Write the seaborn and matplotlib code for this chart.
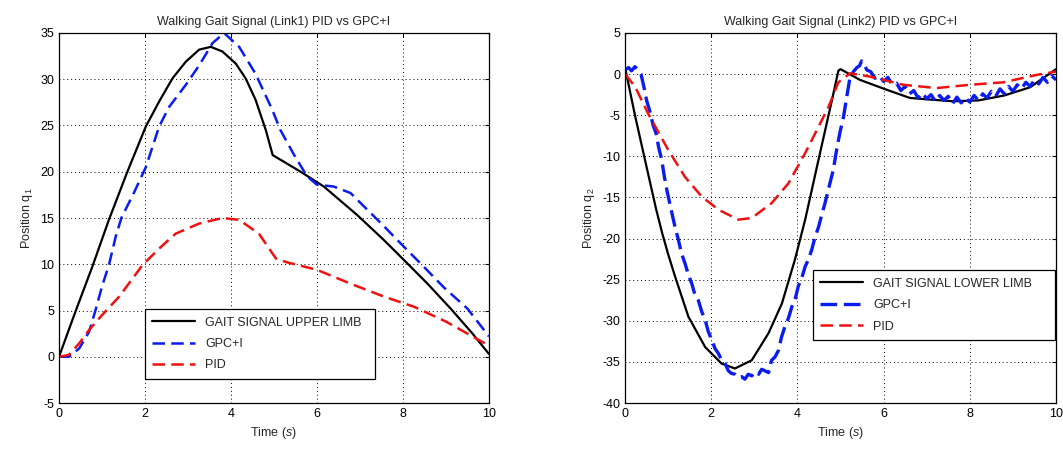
import matplotlib
matplotlib.use("Agg")
import matplotlib.pyplot as plt
import seaborn as sns

# ---- Link1 (upper limb) ----
t_gait1 = [0, 0.4, 0.78, 1.16, 1.59, 2.02, 2.33, 2.64, 2.95, 3.26, 3.53, 3.80, 4.11, 4.34, 4.57,
           4.81, 4.97, 5.62, 6.16, 6.94, 7.56, 8.1, 8.57, 9.11, 9.6, 10.0]
q_gait1 = [0, 5.1, 9.8, 14.8, 20.0, 24.9, 27.6, 30.1, 31.9, 33.2, 33.5, 33.0, 31.7, 30.1, 27.8,
           24.5, 21.8, 20.0, 18.4, 15.3, 12.6, 10.1, 7.9, 5.2, 2.6, 0.3]

t_gpc1 = [0, 0.23, 0.47, 0.7, 0.85, 1.0, 1.16, 1.32, 1.45, 1.75, 2.02, 2.33, 2.56, 2.95, 3.26, 3.57,
          3.84, 4.19, 4.57, 4.96, 5.15, 5.47, 5.77, 6.0, 6.39, 6.78, 7.17, 7.56, 8.02, 8.49, 8.95,
          9.5, 10.0]
q_gpc1 = [0, 0, 0.9, 2.7, 5.05, 7.6, 9.9, 13.0, 15.0, 17.8, 20.5, 24.9, 27.0, 29.4, 31.5, 33.9,
          35.0, 33.5, 30.6, 26.7, 24.5, 21.8, 19.5, 18.6, 18.4, 17.7, 15.9, 14.1, 11.9, 9.7, 7.5,
          5.2, 2.2]

t_pid1 = [0, 0.23, 0.47, 0.7, 1.0, 1.4, 1.94, 2.33, 2.71, 3.26, 3.8, 4.19, 4.65, 4.96, 5.05, 5.31,
          6.0, 6.78, 7.56, 8.26, 9.0, 10.0]
q_pid1 = [0, 0.2, 1.45, 2.9, 4.5, 6.5, 9.9, 11.7, 13.3, 14.4, 15.0, 14.8, 13.3, 11.2, 10.6, 10.2,
          9.4, 7.9, 6.5, 5.4, 3.8, 1.2]

# ---- Link2 (lower limb) ----
t_gait2 = [0, 0.23, 0.5, 0.72, 0.86, 1.0, 1.16, 1.47, 1.86, 2.24, 2.55, 2.94, 3.33, 3.64, 3.94, 4.18,
           4.49, 4.8, 4.95, 5.0, 5.45, 6.07, 6.61, 7.08, 7.62, 8.2, 8.8, 9.4, 10.0]
q_gait2 = [0.8, -5.0, -11.3, -16.4, -19.3, -21.9, -24.6, -29.5, -33.2, -35.2, -35.8, -34.8, -31.5,
           -27.9, -22.6, -17.7, -10.4, -3.2, 0.4, 0.6, -0.7, -1.9, -2.9, -3.1, -3.3, -3.2, -2.6,
           -1.6, 0.6]

t_gpc2 = [0, 0.08, 0.15, 0.23, 0.3, 0.37, 0.44, 0.5, 0.58, 0.65, 0.72, 0.78, 0.85, 0.91, 0.97,
          1.05, 1.1, 1.16, 1.24, 1.31, 1.39, 1.47, 1.55, 1.62, 1.70, 1.78, 1.86, 1.93, 2.01, 2.09,
          2.17, 2.25, 2.32, 2.40, 2.47, 2.55, 2.63, 2.71, 2.78, 2.86, 2.94, 3.02, 3.10, 3.17, 3.25,
          3.33, 3.40, 3.48, 3.56, 3.63, 3.71, 3.79, 3.87, 3.95, 4.02, 4.10, 4.18, 4.25, 4.33, 4.41,
          4.49, 4.57, 4.64, 4.72, 4.83, 4.91, 4.99, 5.07, 5.15, 5.22, 5.30, 5.38, 5.44, 5.49, 5.55,
          5.61, 5.7, 5.8, 5.9, 6.0, 6.1, 6.2, 6.3, 6.4, 6.5, 6.6, 6.7, 6.8, 6.9, 7.0, 7.1, 7.2, 7.3,
          7.4, 7.5, 7.6, 7.7, 7.8, 7.9, 8.0, 8.1, 8.2, 8.3, 8.4, 8.5, 8.6, 8.7, 8.8, 8.9, 9.0, 9.1,
          9.2, 9.3, 9.4, 9.5, 9.6, 9.7, 9.8, 9.9, 10.0]
q_gpc2 = [0.5, 0.8, 0.4, 0.9, 0.5, 0.0, -1.6, -3.2, -4.6, -6.2, -7.2, -8.9, -10.4, -12.4, -14.1,
          -16.0, -17.2, -18.6, -20.2, -21.8, -23.0, -24.4, -25.5, -26.8, -27.5, -28.9, -29.9, -31.3,
          -32.3, -33.4, -34.0, -34.9, -35.2, -36.1, -36.4, -36.5, -36.9, -36.8, -37.1, -36.5, -36.7,
          -36.2, -36.5, -35.9, -36.1, -36.3, -34.8, -34.4, -33.6, -32.0, -30.7, -29.7, -28.3, -27.3,
          -25.8, -24.8, -23.4, -22.6, -21.4, -19.8, -18.6, -17.0, -15.7, -14.0, -11.7, -9.2, -7.0,
          -5.2, -2.6, -0.4, 0.3, 0.8, 1.0, 1.6, 1.2, 0.5, 0.3, -0.5, -0.2, -0.9, -0.4, -1.3, -1.1,
          -2.0, -1.5, -2.4, -2.0, -2.9, -2.3, -3.0, -2.5, -3.3, -2.6, -3.2, -2.7, -3.6, -2.8, -3.5,
          -2.9, -3.4, -2.6, -3.2, -2.4, -2.9, -2.1, -2.7, -1.8, -2.4, -1.5, -2.1, -1.3, -1.8, -1.0,
          -1.5, -0.7, -1.2, -0.4, -1.0, -0.2, -0.7]

t_pid2 = [0, 0.23, 0.54, 1.0, 1.39, 1.78, 2.17, 2.63, 2.94, 3.4, 3.79, 4.18, 4.49, 4.72, 4.95,
          5.22, 5.68, 6.46, 7.23, 8.0, 8.78, 9.55, 10.0]
q_pid2 = [0, -1.5, -4.85, -9.2, -12.5, -14.9, -16.5, -17.7, -17.5, -15.7, -13.3, -9.6, -6.4, -4.0,
          -1.0, 0.1, -0.3, -1.3, -1.7, -1.3, -1.0, -0.1, 0.3]

sns.set_style("white")
plt.rcParams['font.family'] = ['Liberation Sans', 'DejaVu Sans']
plt.rcParams['axes.unicode_minus'] = False
plt.rcParams['mathtext.fontset'] = 'custom'
plt.rcParams['mathtext.rm'] = 'Liberation Sans'
plt.rcParams['mathtext.it'] = 'Liberation Sans:italic'

fig = plt.figure(figsize=(10.63, 4.5), dpi=100)
ax1 = fig.add_axes([0.0555, 0.1044, 0.4045, 0.8223])
ax2 = fig.add_axes([0.588, 0.1044, 0.4054, 0.8223])

dash = (0, (5, 2.5))
sns.lineplot(x=t_gait1, y=q_gait1, ax=ax1, color="black", lw=1.6, label="GAIT SIGNAL UPPER LIMB")
sns.lineplot(x=t_gpc1, y=q_gpc1, ax=ax1, color="#0a1cf0", lw=1.8, linestyle=dash, label="GPC+I")
sns.lineplot(x=t_pid1, y=q_pid1, ax=ax1, color="#f01010", lw=1.8, linestyle=dash, label="PID")

sns.lineplot(x=t_gait2, y=q_gait2, ax=ax2, color="black", lw=1.6, label="GAIT SIGNAL LOWER LIMB")
sns.lineplot(x=t_gpc2, y=q_gpc2, ax=ax2, color="#0a1cf0", lw=2.4, linestyle=(0, (5, 2.0)), label="GPC+I")
sns.lineplot(x=t_pid2, y=q_pid2, ax=ax2, color="#f01010", lw=1.8, linestyle=dash, label="PID")

panels = [
    (ax1, "Walking Gait Signal (Link1) PID vs GPC+I", "Position q$_1$", (-5, 35), range(-5, 36, 5),
     (0.2, 0.065, 0.535, 0.18)),
    (ax2, "Walking Gait Signal (Link2) PID vs GPC+I", "Position q$_2$", (-40, 5), range(-40, 6, 5),
     (0.436, 0.17, 0.562, 0.18)),
]
for ax, title, ylab, ylim, yt, bbox in panels:
    ax.set_xlim(0, 10)
    ax.set_ylim(*ylim)
    ax.set_xticks(range(0, 11, 2))
    ax.set_yticks(list(yt))
    ax.grid(True, color="black", linestyle=(0, (1, 3)), linewidth=0.7)
    ax.tick_params(direction="in", length=3, labelsize=9, colors="black", top=True, right=True)
    for s in ax.spines.values():
        s.set_color("black")
        s.set_linewidth(0.9)
    ax.set_title(title, fontsize=9, pad=6)
    ax.set_xlabel("Time ($s$)", fontsize=9)
    ax.set_ylabel(ylab, fontsize=9)
    leg = ax.legend(loc="lower left", bbox_to_anchor=bbox, mode="expand", fontsize=9,
                    fancybox=False, framealpha=1, edgecolor="black", handlelength=3.4,
                    borderaxespad=0, labelspacing=0.75, borderpad=0.6)
    leg.get_frame().set_linewidth(0.9)

fig.savefig("out.png", dpi=100)
